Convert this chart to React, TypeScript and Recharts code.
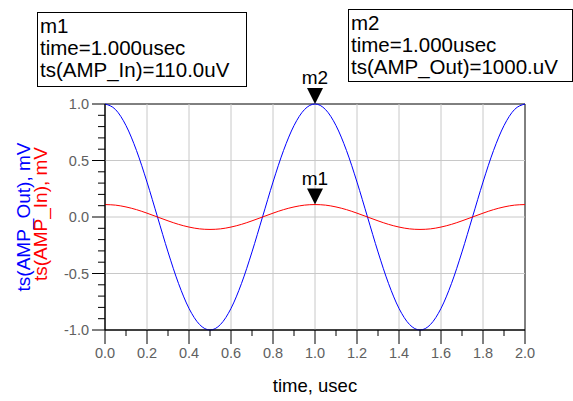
import React from 'react';
import { LineChart, Line, XAxis, YAxis, ReferenceLine, ReferenceArea, ReferenceDot } from 'recharts';

const time = [0, 0.05, 0.1, 0.15, 0.2, 0.25, 0.3, 0.35, 0.4, 0.45, 0.5, 0.55, 0.6, 0.65, 0.7, 0.75, 0.8, 0.85, 0.9, 0.95, 1.0,
  1.05, 1.1, 1.15, 1.2, 1.25, 1.3, 1.35, 1.4, 1.45, 1.5, 1.55, 1.6, 1.65, 1.7, 1.75, 1.8, 1.85, 1.9, 1.95, 2.0];
const ampOut = [1.0, 0.951, 0.809, 0.588, 0.309, 0.0, -0.309, -0.588, -0.809, -0.951, -1.0, -0.951, -0.809, -0.588, -0.309, 0.0, 0.309, 0.588, 0.809, 0.951, 1.0,
  0.951, 0.809, 0.588, 0.309, 0.0, -0.309, -0.588, -0.809, -0.951, -1.0, -0.951, -0.809, -0.588, -0.309, 0.0, 0.309, 0.588, 0.809, 0.951, 1.0];
const ampIn = [0.11, 0.105, 0.089, 0.065, 0.034, 0.0, -0.034, -0.065, -0.089, -0.105, -0.11, -0.105, -0.089, -0.065, -0.034, 0.0, 0.034, 0.065, 0.089, 0.105, 0.11,
  0.105, 0.089, 0.065, 0.034, 0.0, -0.034, -0.065, -0.089, -0.105, -0.11, -0.105, -0.089, -0.065, -0.034, 0.0, 0.034, 0.065, 0.089, 0.105, 0.11];

const xTicks = [0, 0.1, 0.2, 0.3, 0.4, 0.5, 0.6, 0.7, 0.8, 0.9, 1.0, 1.1, 1.2, 1.3, 1.4, 1.5, 1.6, 1.7, 1.8, 1.9, 2.0];
const yTicks = [-1.0, -0.9, -0.8, -0.7, -0.6, -0.5, -0.4, -0.3, -0.2, -0.1, 0.0, 0.1, 0.2, 0.3, 0.4, 0.5, 0.6, 0.7, 0.8, 0.9, 1.0];
const xGrid = [0.2, 0.4, 0.6, 0.8, 1.0, 1.2, 1.4, 1.6, 1.8];
const yGrid = [-0.5, 0.0, 0.5];

const markerM1 = { name: 'm1', time: 1.0, value: 0.11, lines: ['m1', 'time=1.000usec', 'ts(AMP_In)=110.0uV'] };
const markerM2 = { name: 'm2', time: 1.0, value: 1.0, lines: ['m2', 'time=1.000usec', 'ts(AMP_Out)=1000.uV'] };

const data = time.map((t, i) => ({ time: t, out: ampOut[i], inp: ampIn[i] }));

const FONT = '"Liberation Sans", Arial, sans-serif';

const XTick = (props: any) => {
  const { x, y, payload } = props;
  const v = payload.value as number;
  const major = Math.round(v * 10) % 2 === 0;
  return (
    <g>
      <line x1={x} y1={y} x2={x} y2={y + (major ? 14 : 6)} stroke="#000" />
      {major && (
        <text x={x} y={y + 28} textAnchor="middle" fill="#606060" fontSize={14.5} fontFamily={FONT}>
          {v.toFixed(1)}
        </text>
      )}
    </g>
  );
};

const YTick = (props: any) => {
  const { x, y, payload } = props;
  const v = payload.value as number;
  const major = Math.round(Math.abs(v) * 10) % 5 === 0;
  return (
    <g>
      <line x1={x} y1={y} x2={x - (major ? 13 : 7)} y2={y} stroke="#000" />
      {major && (
        <text x={x - 16} y={y + 5} textAnchor="end" fill="#606060" fontSize={14.5} fontFamily={FONT}>
          {v.toFixed(1)}
        </text>
      )}
    </g>
  );
};

const markerShape = (label: string) => (props: any) => {
  const { cx, cy } = props;
  return (
    <g>
      <path d={`M${cx - 8},${cy - 16} L${cx + 8},${cy - 16} L${cx},${cy} Z`} fill="#000" />
      <text x={cx} y={cy - 20} textAnchor="middle" fill="#000" fontSize={19} fontFamily={FONT}>
        {label}
      </text>
    </g>
  );
};

const MarkerBox = ({ x, y, w, h, lines }: { x: number; y: number; w: number; h: number; lines: string[] }) => (
  <g>
    <rect x={x + 0.5} y={y + 0.5} width={w} height={h} fill="#fff" stroke="#000" />
    {lines.map((l, i) => (
      <text key={i} x={x + 3} y={y + 21 + i * 22} fill="#000" fontSize={20.5} fontFamily={FONT}>
        {l}
      </text>
    ))}
  </g>
);

export default function App() {
  return (
    <div style={{ position: 'absolute', left: 0, top: 0, width: 573, height: 401, background: '#fff' }}>
      <LineChart width={573} height={401} data={data} margin={{ top: 104, right: 48, left: 0, bottom: 0 }}>
        <XAxis
          dataKey="time"
          type="number"
          domain={[0, 2]}
          ticks={xTicks}
          interval={0}
          tickSize={0}
          tickMargin={0}
          height={71}
          axisLine={{ stroke: '#000' }}
          tickLine={false}
          tick={<XTick />}
        />
        <YAxis
          type="number"
          domain={[-1, 1]}
          ticks={yTicks}
          interval={0}
          tickSize={0}
          tickMargin={0}
          width={105}
          axisLine={{ stroke: '#000' }}
          tickLine={false}
          tick={<YTick />}
        />
        {xGrid.map((g) => (
          <ReferenceLine key={'x' + g} x={g} stroke="#c8c8c8" />
        ))}
        {yGrid.map((g) => (
          <ReferenceLine key={'y' + g} y={g} stroke="#c8c8c8" />
        ))}
        <ReferenceArea x1={0} x2={2} y1={-1} y2={1} fill="none" fillOpacity={0} stroke="#000" strokeOpacity={1} />
        <Line dataKey="out" type="monotone" stroke="#0000ff" strokeWidth={1} dot={false} isAnimationActive={false} />
        <Line dataKey="inp" type="monotone" stroke="#ff0000" strokeWidth={1} dot={false} isAnimationActive={false} />
        <ReferenceDot x={markerM2.time} y={markerM2.value} r={0} shape={markerShape(markerM2.name)} />
        <ReferenceDot x={markerM1.time} y={markerM1.value} r={0} shape={markerShape(markerM1.name)} />
      </LineChart>
      <svg width={573} height={401} style={{ position: 'absolute', left: 0, top: 0, pointerEvents: 'none' }}>
        <text transform="translate(30,217) rotate(-90)" textAnchor="middle" fill="#0000ff" fontSize={19} fontFamily={FONT}>
          ts(AMP_Out), mV
        </text>
        <text transform="translate(47,214) rotate(-90)" textAnchor="middle" fill="#ff0000" fontSize={19} fontFamily={FONT}>
          ts(AMP_In), mV
        </text>
        <text x={315} y={392} textAnchor="middle" fill="#000" fontSize={18.5} fontFamily={FONT}>
          time, usec
        </text>
        <MarkerBox x={37} y={12} w={209} h={74} lines={markerM1.lines} />
        <MarkerBox x={348} y={9} w={224} h={72} lines={markerM2.lines} />
      </svg>
    </div>
  );
}
